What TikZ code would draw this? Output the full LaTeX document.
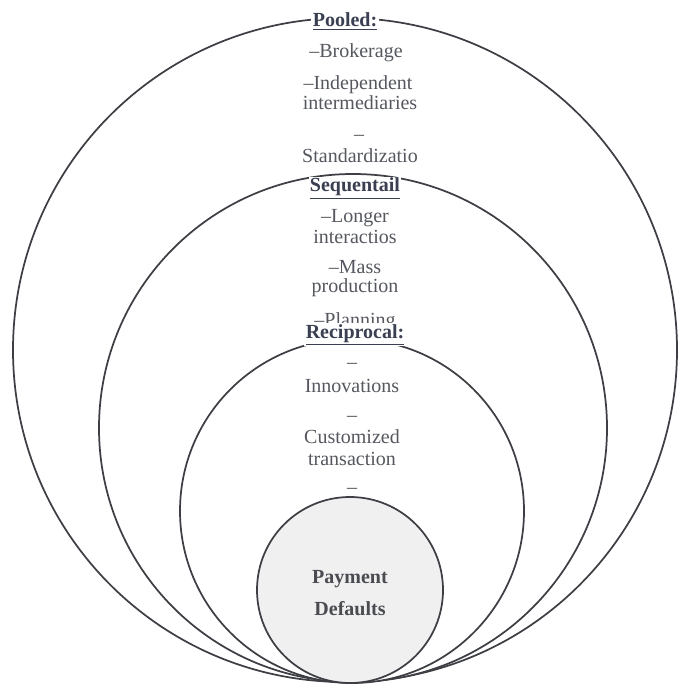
\documentclass[tikz,border=0pt]{standalone}
\usepackage{fontspec}
\setmainfont{Liberation Serif}
\begin{document}
\begin{tikzpicture}[x=0.75pt,y=-0.75pt,
  ring/.style={circle,draw=ringgray,line width=1.3pt,inner sep=0pt,outer sep=0pt,fill=white},
  item/.style={anchor=base,inner sep=0pt,text=itemgray,font=\fontsize{15}{17}\selectfont},
  head/.style={anchor=base,inner sep=1pt,fill=white,text=headgray,font=\fontsize{15}{17}\selectfont\bfseries},
  core/.style={anchor=base,inner sep=0pt,text=coregray,font=\fontsize{15}{17}\selectfont\bfseries}]
\definecolor{ringgray}{HTML}{3E3F45}
\definecolor{itemgray}{HTML}{55585F}
\definecolor{headgray}{HTML}{3A4052}
\definecolor{coregray}{HTML}{4A4C52}
\definecolor{corefill}{HTML}{F0F0F0}
\useasboundingbox (0,0) rectangle (677,684);

% outermost ring: pooled interdependence
\node[ring,minimum size=498pt] (pooledring) at (345,350) {};
\node[head] (pooledhead) at (345,27) {\underline{Pooled:}};
\node[item] (brokerage) at (356,58) {\textendash Brokerage};
\node[item] (independent) at (358,90) {\textendash Independent};
\node[item] (intermediaries) at (360,110) {intermediaries};
\node[item] (dashA) at (359,141) {\textendash};
\node[item] (standard) at (360,163) {Standardizatio};

% second ring: sequential interdependence
\node[ring,minimum size=381pt] (seqring) at (353,428) {};
\node[head] (seqhead) at (355,192) {\underline{Sequentail}};
\node[item] (longer) at (355,223) {\textendash Longer};
\node[item] (interactios) at (355,243) {interactios};
\node[item] (mass) at (355,273) {\textendash Mass};
\node[item] (production) at (355,292) {production};
\node[item] (planning) at (355,326) {\textendash Planning};

% third ring: reciprocal interdependence
\node[ring,minimum size=258pt] (recring) at (352,511) {};
\node[head] (rechead) at (355,338) {\underline{Reciprocal:}};
\node[item] (dashB) at (352,368) {\textendash};
\node[item] (innovations) at (352,392) {Innovations};
\node[item] (dashC) at (352,421) {\textendash};
\node[item] (customized) at (352,443) {Customized};
\node[item] (transaction) at (352,465) {transaction};
\node[item] (dashD) at (352,493) {\textendash};

% core
\node[ring,fill=corefill,minimum size=139.5pt] (corering) at (350,590) {};
\node[core] (payment) at (350,583) {Payment};
\node[core] (defaults) at (350,615) {Defaults};
\end{tikzpicture}
\end{document}
